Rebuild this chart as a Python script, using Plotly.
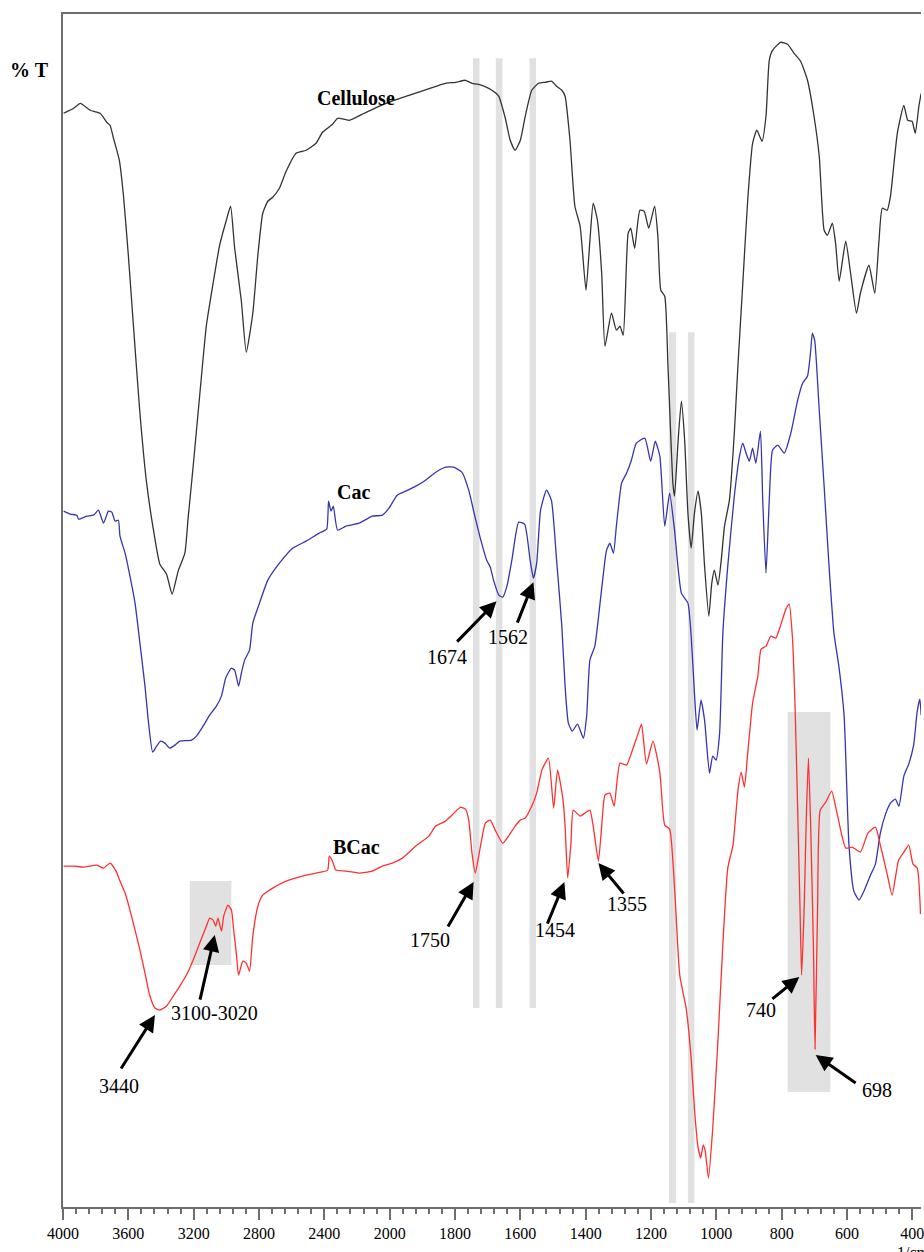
import numpy as np
import plotly.graph_objects as go

# ---------------- data (wavenumber in 1/cm, %T in display units) ----------------
cell_wn = [3996, 3935, 3894, 3833, 3773, 3732, 3712, 3691, 3655, 3630, 3600, 3569, 3529, 3488, 3447, 3407,
           3366, 3332, 3295, 3254, 3234, 3203, 3163, 3122, 3081, 3041, 3000, 2974, 2949, 2908, 2878, 2838,
           2807, 2777, 2746, 2716, 2675, 2634, 2573, 2512, 2451, 2411, 2350, 2319, 2248, 2156, 2065, 1987,
           1941, 1895, 1849, 1829, 1798, 1768, 1748, 1717, 1687, 1666, 1646, 1631, 1616, 1600, 1585, 1565,
           1544, 1524, 1504, 1489, 1473, 1463, 1448, 1433, 1417, 1399, 1387, 1377, 1364, 1351, 1341, 1321,
           1306, 1295, 1285, 1270, 1262, 1250, 1234, 1221, 1207, 1189, 1179, 1170, 1158, 1148, 1133, 1128,
           1117, 1107, 1097, 1087, 1077, 1067, 1056, 1046, 1036, 1023, 1014, 1006, 995, 985, 975, 960,
           945, 934, 919, 904, 889, 876, 860, 848, 838, 828, 803, 782, 762, 742, 721, 701,
           685, 670, 660, 645, 635, 624, 604, 589, 571, 559, 533, 515, 502, 492, 477, 467,
           446, 426, 414, 401, 391, 380, 373]
cell_t = [109.4, 109.9, 110.4, 109.7, 109.4, 108.5, 108.2, 106.9, 104.7, 101.2, 95.2, 88.2, 79.4, 72.4, 67.8, 64.3,
          63.3, 61.3, 63.6, 65.4, 68.9, 74.1, 81.2, 88.2, 92.4, 96.2, 98.7, 100.1, 95.9, 90.6, 85.5, 89.4,
          95.2, 99.4, 100.6, 101.0, 101.9, 103.6, 105.4, 105.7, 106.4, 107.5, 108.3, 108.9, 108.7, 109.4, 110.1, 110.7,
          111.2, 111.7, 112.2, 112.4, 112.5, 112.7, 112.4, 112.2, 111.7, 111.1, 108.9, 106.7, 105.7, 106.7, 109.1, 111.7,
          112.4, 112.5, 112.6, 112.1, 111.7, 111.1, 106.7, 100.1, 98.1, 91.7, 96.7, 100.4, 98.7, 93.4, 86.1, 89.4,
          87.7, 88.1, 87.2, 97.4, 97.9, 95.9, 99.7, 99.6, 97.9, 100.1, 97.1, 91.7, 91.1, 84.1, 72.4, 71.1,
          76.7, 80.6, 76.7, 69.4, 65.9, 69.4, 71.6, 69.4, 64.1, 59.1, 62.4, 63.7, 62.2, 64.7, 68.1, 70.7,
          77.4, 84.1, 92.4, 100.7, 106.4, 107.7, 106.6, 109.1, 114.7, 115.7, 116.5, 116.3, 115.4, 114.6, 112.7, 109.1,
          105.1, 97.7, 97.2, 98.4, 96.4, 92.6, 96.6, 93.4, 89.4, 91.4, 94.2, 91.4, 96.7, 99.9, 99.7, 101.1,
          107.4, 110.2, 108.7, 108.6, 107.4, 110.1, 111.4]

cac_wn = [3996, 3955, 3915, 3905, 3854, 3813, 3783, 3752, 3722, 3701, 3681, 3661, 3651, 3620, 3590, 3559,
          3529, 3498, 3478, 3451, 3427, 3402, 3376, 3346, 3315, 3285, 3213, 3183, 3142, 3102, 3061, 3030,
          3004, 2969, 2949, 2925, 2908, 2888, 2858, 2838, 2797, 2746, 2675, 2594, 2512, 2431, 2386, 2374,
          2359, 2345, 2319, 2268, 2187, 2106, 2045, 2004, 1977, 1951, 1920, 1890, 1859, 1828, 1804, 1779,
          1758, 1740, 1721, 1703, 1692, 1682, 1666, 1654, 1641, 1626, 1605, 1587, 1570, 1560, 1550, 1538,
          1520, 1505, 1489, 1473, 1463, 1453, 1441, 1425, 1407, 1397, 1387, 1372, 1356, 1341, 1336, 1326,
          1315, 1306, 1290, 1275, 1260, 1245, 1219, 1201, 1187, 1173, 1158, 1143, 1128, 1107, 1087, 1077,
          1067, 1059, 1047, 1036, 1021, 1011, 1001, 990, 980, 965, 945, 929, 919, 909, 899, 889,
          879, 865, 858, 848, 838, 828, 812, 792, 772, 751, 736, 721, 711, 706, 699, 685,
          670, 655, 640, 625, 609, 594, 579, 563, 548, 528, 513, 498, 482, 467, 452, 441,
          426, 411, 396, 385, 377, 373]
cac_t = [69.6, 69.3, 69.2, 68.8, 69.1, 69.2, 69.7, 68.4, 69.6, 69.5, 68.6, 68.7, 67.1, 65.4, 63.1, 60.4,
         56.4, 52.1, 48.7, 45.5, 46.1, 46.6, 46.4, 45.9, 46.2, 46.6, 46.7, 47.1, 48.1, 49.2, 50.1, 51.1,
         52.9, 53.9, 53.7, 52.1, 53.4, 54.7, 55.7, 58.4, 60.4, 62.7, 64.4, 65.9, 66.6, 67.4, 67.8, 70.6,
         69.6, 70.1, 67.7, 68.1, 68.4, 69.1, 69.2, 69.9, 71.2, 71.6, 72.1, 72.7, 73.5, 74.0, 74.0, 73.5,
         71.7, 69.2, 66.7, 64.7, 64.0, 62.7, 61.2, 61.0, 62.1, 64.7, 68.5, 68.3, 64.7, 62.9, 64.4, 69.7,
         71.7, 70.7, 64.7, 58.1, 52.1, 48.4, 47.6, 48.3, 46.9, 49.1, 54.7, 56.1, 60.4, 64.7, 65.7, 66.4,
         65.4, 68.1, 72.4, 73.4, 74.7, 76.4, 76.9, 74.6, 76.6, 75.1, 68.1, 71.4, 67.7, 61.4, 60.4, 57.1,
         51.4, 47.7, 50.7, 48.7, 43.4, 45.1, 44.7, 47.4, 57.4, 64.1, 71.1, 75.1, 76.4, 75.4, 74.6, 75.9,
         74.4, 77.6, 70.7, 63.4, 70.7, 75.7, 76.2, 75.4, 77.4, 80.7, 82.4, 83.1, 85.7, 87.4, 86.7, 79.7,
         72.1, 64.1, 57.4, 54.1, 49.2, 36.2, 31.6, 30.7, 31.6, 33.2, 34.3, 37.4, 39.3, 40.4, 40.8, 40.1,
         43.1, 44.3, 46.2, 49.6, 50.8, 49.2]

bcac_wn = [3996, 3935, 3874, 3793, 3752, 3712, 3675, 3651, 3620, 3590, 3559, 3529, 3498, 3468, 3437, 3407,
           3366, 3325, 3285, 3244, 3203, 3163, 3122, 3102, 3081, 3065, 3051, 3030, 3016, 2990, 2969, 2955,
           2939, 2925, 2899, 2878, 2858, 2838, 2807, 2777, 2716, 2634, 2533, 2451, 2380, 2370, 2353, 2329,
           2268, 2187, 2106, 2045, 1992, 1961, 1920, 1880, 1859, 1829, 1809, 1783, 1768, 1758, 1748, 1738,
           1722, 1707, 1692, 1677, 1654, 1636, 1616, 1600, 1585, 1565, 1550, 1534, 1514, 1498, 1486, 1470,
           1463, 1455, 1445, 1438, 1417, 1402, 1387, 1377, 1361, 1351, 1341, 1326, 1313, 1295, 1275, 1260,
           1239, 1229, 1214, 1194, 1173, 1158, 1143, 1128, 1112, 1092, 1077, 1067, 1056, 1048, 1040, 1034,
           1024, 1011, 995, 980, 965, 949, 934, 924, 914, 904, 889, 873, 863, 848, 833, 818,
           803, 787, 777, 767, 759, 751, 744, 739, 731, 724, 718, 711, 703, 698, 690, 682,
           665, 647, 630, 604, 584, 559, 536, 513, 498, 477, 462, 442, 426, 411, 398, 385,
           375]
bcac_t = [34.1, 34.1, 34.0, 34.2, 33.9, 34.4, 33.6, 32.6, 31.4, 29.7, 27.7, 25.7, 23.4, 21.1, 19.9, 19.7,
          20.1, 21.1, 22.1, 23.2, 24.7, 26.4, 28.1, 28.9, 28.7, 28.1, 28.9, 27.6, 29.1, 30.2, 29.7, 27.7,
          25.4, 23.2, 24.6, 24.4, 23.6, 27.1, 30.1, 31.2, 31.9, 32.6, 33.1, 33.4, 33.7, 35.1, 34.7, 33.7,
          33.6, 33.4, 33.6, 34.1, 34.4, 34.9, 36.1, 37.1, 38.1, 38.6, 39.2, 40.0, 39.8, 38.7, 35.4, 33.4,
          36.1, 38.4, 38.7, 37.7, 36.4, 37.1, 38.1, 38.7, 38.9, 40.1, 41.4, 43.7, 44.9, 39.9, 43.7, 40.9,
          38.1, 32.9, 36.4, 39.7, 39.1, 39.4, 39.7, 38.1, 34.6, 38.1, 41.2, 41.4, 40.1, 44.4, 44.2, 45.4,
          47.4, 48.3, 44.3, 46.6, 43.5, 38.2, 37.8, 32.0, 23.2, 19.8, 14.8, 9.8, 6.0, 4.9, 6.2, 5.6,
          2.9, 7.9, 16.7, 26.3, 33.9, 36.2, 41.6, 43.5, 42.0, 45.4, 50.4, 53.1, 55.8, 56.1, 57.1, 56.9,
          58.2, 59.8, 60.3, 56.9, 50.0, 39.7, 30.1, 23.2, 30.1, 39.7, 44.9, 37.8, 26.3, 15.8, 30.1, 39.7,
          40.5, 41.6, 39.3, 35.9, 36.0, 35.5, 37.4, 38.0, 36.2, 33.3, 31.2, 34.7, 35.5, 36.2, 34.3, 33.9,
          29.3]

series_names = ["Cellulose", "Cac", "BCac"]

# tick labels
major_wn = [4000, 3600, 3200, 2800, 2400, 2000, 1800, 1600, 1400, 1200, 1000, 800, 600, 400]

# shaded vertical bands (wavenumber ranges) and their vertical extent (display units)
band_lo = [1725, 1655, 1552, 1123, 1067]
band_hi = [1745, 1675, 1572, 1145, 1087]
band_bottom = [19.9, 19.9, 19.9, 0.4, 0.4]
band_top = [114.9, 114.9, 114.9, 87.5, 87.5]

# shaded boxes
box_wn_hi = [3224, 782]
box_wn_lo = [2969, 651]
box_t_lo = [24.2, 11.5]
box_t_hi = [32.6, 49.5]

# peak annotations: label, label position, arrow tail, arrow head (wn, T)
ann_label = ["1674", "1562", "1750", "1454", "1355", "3440", "3100-3020", "740", "698"]
ann_lab_wn = [1824, 1638, 1877, 1494, 1273, 3658, 3073, 862, 508]
ann_lab_t = [55.0, 57.0, 26.7, 27.7, 30.3, 12.1, 19.4, 19.7, 11.7]
ann_tail_wn = [1798, 1611, 1824, 1519, 1280, 3650, 3163, 833, 569]
ann_tail_t = [56.4, 58.3, 27.9, 28.2, 31.2, 13.7, 20.6, 20.7, 12.3]
ann_head_wn = [1673, 1560, 1743, 1465, 1361, 3437, 3071, 746, 696]
ann_head_t = [60.6, 62.5, 32.5, 32.5, 34.4, 19.2, 27.2, 23.0, 15.2]

name_wn = [2208, 2220, 2201]
name_t = [110.9, 71.5, 36.0]


# ---- broken-scale axis: above 2000 1/cm the scale is compressed by 2 ----
def u(w):
    w = np.asarray(w, dtype=float)
    return np.where(w > 2000, 2000 + (w - 2000) / 2.0, w)


SERIF = "Liberation Serif, Times New Roman, serif"
fig = go.Figure()

shapes = []
for lo, hi, b, t in zip(band_lo, band_hi, band_bottom, band_top):
    shapes.append(dict(type="rect", xref="x", yref="y", x0=float(u(hi)), x1=float(u(lo)), y0=b, y1=t,
                       fillcolor="#e1e1e1", line=dict(width=0), layer="below"))
for hi, lo, b, t in zip(box_wn_hi, box_wn_lo, box_t_lo, box_t_hi):
    shapes.append(dict(type="rect", xref="x", yref="y", x0=float(u(hi)), x1=float(u(lo)), y0=b, y1=t,
                       fillcolor="#e1e1e1", line=dict(width=0), layer="below"))

colors = ["#333333", "#3535b0", "#ff3030"]
for name, wn, tv, c in zip(series_names, [cell_wn, cac_wn, bcac_wn], [cell_t, cac_t, bcac_t], colors):
    fig.add_trace(go.Scatter(x=u(wn), y=tv, mode="lines", name=name,
                             line=dict(color=c, width=1.3, shape="spline", smoothing=0.5),
                             showlegend=False, hoverinfo="skip"))

annotations = []
for lab, lw, lt, tw, tt, hw, ht in zip(ann_label, ann_lab_wn, ann_lab_t, ann_tail_wn, ann_tail_t,
                                        ann_head_wn, ann_head_t):
    annotations.append(dict(x=float(u(hw)), y=ht, ax=float(u(tw)), ay=tt, xref="x", yref="y",
                            axref="x", ayref="y", text="", showarrow=True, arrowhead=2,
                            arrowsize=1.1, arrowwidth=3, arrowcolor="black", standoff=0, startstandoff=0))
    annotations.append(dict(x=float(u(lw)), y=lt, xref="x", yref="y", text=lab, showarrow=False,
                            xanchor="center", yanchor="middle",
                            font=dict(family=SERIF, size=20, color="black")))
for nm, nw, nt in zip(series_names, name_wn, name_t):
    annotations.append(dict(x=float(u(nw)), y=nt, xref="x", yref="y", text="<b>" + nm + "</b>",
                            xanchor="center", yanchor="middle",
                            showarrow=False, font=dict(family=SERIF, size=20, color="black")))
annotations.append(dict(x=-0.0395, y=0.953, xref="paper", yref="paper", text="<b>% T</b>",
                        xanchor="center", yanchor="middle",
                        showarrow=False, font=dict(family=SERIF, size=20, color="black")))
annotations.append(dict(x=0.9698, y=-0.029, xref="paper", yref="paper", text="1/cm", xanchor="left",
                        yanchor="top", showarrow=False, font=dict(family=SERIF, size=16, color="black")))

fig.update_layout(
    width=924, height=1252,
    margin=dict(l=63, r=0, t=14, b=45),
    paper_bgcolor="white", plot_bgcolor="white",
    shapes=shapes, annotations=annotations,
    xaxis=dict(range=[3000, 373.5], tickmode="array", tickvals=[float(u(w)) for w in major_wn],
               ticktext=[str(w) for w in major_wn], ticks="outside", ticklen=11, tickwidth=2,
               tickcolor="#6e6e6e", showline=True, linecolor="#6e6e6e", linewidth=2, mirror=True,
               showgrid=False, zeroline=False, ticklabeloverflow="allow",
               tickfont=dict(family=SERIF, size=16, color="black"),
               minor=dict(tick0=0, dtick=40, ticks="outside", ticklen=5, tickwidth=1.5,
                          tickcolor="#6e6e6e", showgrid=False)),
    yaxis=dict(range=[0, 119.33], showticklabels=False, ticks="", showgrid=False, zeroline=False,
               showline=True, linecolor="#6e6e6e", linewidth=2, mirror=False),
)

# remove the default page margin so the 924x1252 figure fills the window exactly
fig.write_html("out.html", config={"displayModeBar": False},
               post_script="document.body.style.margin='0';document.body.style.overflow='hidden';")
